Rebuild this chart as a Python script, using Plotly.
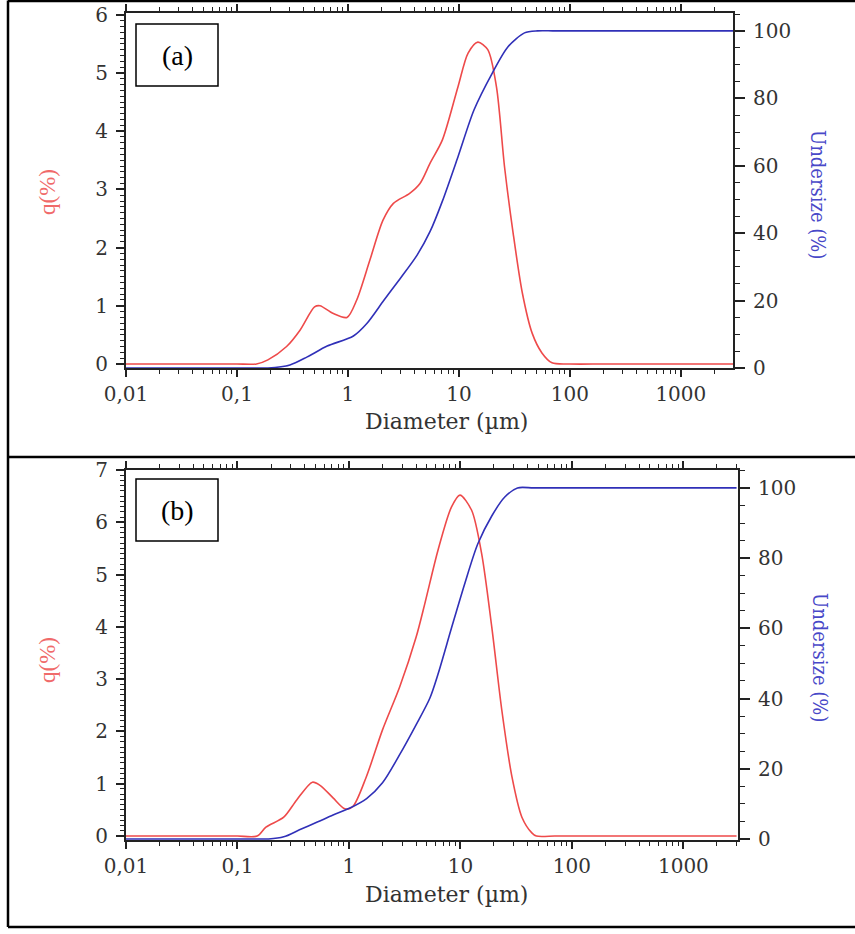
import plotly.graph_objects as go

W, H = 855, 934

# ---------------- data ----------------
# Panel (a)
d_qa = [0.01, 0.03, 0.06, 0.1, 0.15, 0.19, 0.28, 0.37, 0.50, 0.56, 0.73, 0.98, 1.2, 1.58, 2.07, 2.57, 3.6, 4.46, 5.5,
        7.1, 9.8, 12.1, 14.8, 18.2, 21.8, 25.8, 30.8, 37.3, 45.7, 56, 69, 100, 200, 500, 1000, 3000]
q_a = [0, 0, 0, 0, 0, 0.07, 0.3, 0.58, 0.98, 1.0, 0.87, 0.8, 1.1, 1.79, 2.47, 2.76, 2.93, 3.1, 3.45,
       3.85, 4.76, 5.34, 5.53, 5.40, 4.76, 3.38, 2.25, 1.22, 0.53, 0.19, 0.02, 0, 0, 0, 0, 0]
d_ua = [0.01, 0.03, 0.06, 0.1, 0.15, 0.19, 0.30, 0.43, 0.65, 1.12, 1.48, 2.1, 2.95, 4.2, 5.5, 7.1, 9.8, 13.7, 20,
        27.7, 39, 51, 70, 100, 200, 500, 1000, 3000]
u_a = [0, 0, 0, 0, 0, 0, 0.9, 3.3, 6.5, 9.5, 13.2, 20, 26.5, 33.5, 40.5, 49.5, 62.6, 76.6, 87.5,
       95.3, 99.4, 100, 100, 100, 100, 100, 100, 100]

# Panel (b)
d_qb = [0.01, 0.03, 0.06, 0.1, 0.15, 0.18, 0.26, 0.34, 0.47, 0.55, 0.72, 0.92, 1.08, 1.43, 2.0, 2.85, 4.0, 4.8, 6.3,
        8.3, 9.9, 12.6, 15.5, 19.1, 23.5, 29, 35.6, 43.7, 48, 70, 100, 200, 500, 1000, 3000]
q_b = [0, 0, 0, 0, 0, 0.17, 0.36, 0.69, 1.03, 0.97, 0.73, 0.52, 0.56, 1.13, 2.03, 2.85, 3.8, 4.45, 5.47,
       6.29, 6.52, 6.23, 5.4, 4.0, 2.41, 1.13, 0.36, 0.06, 0, 0, 0, 0, 0, 0, 0]
d_ub = [0.01, 0.03, 0.06, 0.1, 0.15, 0.19, 0.26, 0.36, 0.52, 0.72, 1.02, 1.44, 2.0, 2.85, 4.0, 5.3, 6.3, 8.3, 11,
        14.3, 19.1, 25, 32.5, 45, 70, 100, 200, 500, 1000, 3000]
u_b = [0, 0, 0, 0, 0, 0, 0.6, 2.6, 4.8, 6.8, 8.8, 11.5, 16, 24, 32.5, 40, 47, 60, 73,
       84, 92, 97.4, 100, 100, 100, 100, 100, 100, 100, 100]

x_tickvals = [0.01, 0.1, 1, 10, 100, 1000]
x_ticktext = ["0,01", "0,1", "1", "10", "100", "1000"]
panel_labels = ["(a)", "(b)"]
x_title = "Diameter (\u00b5m)"
yl_title = "q(%)"
yr_title = "Undersize (%)"

RED = "#ee4a4a"
BLUE = "#3030b8"
AX = "#222222"
SERIF = "Liberation Serif, Times New Roman, serif"
WIDE_SERIF = "DejaVu Serif, Liberation Serif, serif"


def px_x(v):
    return v / W


def px_y(v):
    return 1 - v / H


fig = go.Figure()

line_kw = dict(width=1.6, shape="spline", smoothing=0.8)
fig.add_trace(go.Scatter(x=d_qa, y=q_a, mode="lines", line=dict(color=RED, **line_kw),
                         xaxis="x", yaxis="y", showlegend=False))
fig.add_trace(go.Scatter(x=d_ua, y=u_a, mode="lines", line=dict(color=BLUE, **line_kw),
                         xaxis="x", yaxis="y2", showlegend=False))
fig.add_trace(go.Scatter(x=d_qb, y=q_b, mode="lines", line=dict(color=RED, **line_kw),
                         xaxis="x2", yaxis="y3", showlegend=False))
fig.add_trace(go.Scatter(x=d_ub, y=u_b, mode="lines", line=dict(color=BLUE, **line_kw),
                         xaxis="x2", yaxis="y4", showlegend=False))

tickfont = dict(family=WIDE_SERIF, size=20, color="#333333")


def xaxis(domain, rng, anchor):
    return dict(type="log", domain=domain, range=rng, anchor=anchor, automargin=False,
                tickmode="array", tickvals=x_tickvals, ticktext=x_ticktext,
                ticks="outside", ticklen=7, tickwidth=1.5, tickcolor=AX,
                minor=dict(ticks="outside", ticklen=4, tickwidth=1.2, tickcolor=AX, dtick="D1", showgrid=False),
                showline=True, linecolor=AX, linewidth=2, mirror="ticks",
                showgrid=False, zeroline=False, tickfont=tickfont)


def yleft(domain, rng, anchor):
    return dict(domain=domain, range=rng, anchor=anchor, dtick=1, tick0=0, automargin=False,
                ticks="outside", ticklen=8, tickwidth=1.5, tickcolor=AX, ticklabelstandoff=4,
                minor=dict(ticks="outside", ticklen=4, tickwidth=1.2, tickcolor=AX, dtick=0.1, showgrid=False),
                showline=True, linecolor=AX, linewidth=2,
                showgrid=False, zeroline=False, tickfont=tickfont)


def yright(overlay, rng, anchor):
    return dict(overlaying=overlay, side="right", range=rng, anchor=anchor, dtick=20, tick0=0, automargin=False,
                ticks="outside", ticklen=10, tickwidth=1.5, tickcolor=AX, ticklabelstandoff=4,
                minor=dict(ticks="outside", ticklen=5, tickwidth=1.2, tickcolor=AX, dtick=5, showgrid=False),
                showline=True, linecolor=AX, linewidth=2,
                showgrid=False, zeroline=False, tickfont=tickfont)


top_dom_y = [px_y(368), px_y(13)]
bot_dom_y = [px_y(840), px_y(470)]

fig.update_layout(
    template="none",
    width=W, height=H, margin=dict(l=0, r=0, t=0, b=0, pad=0, autoexpand=False),
    paper_bgcolor="white", plot_bgcolor="rgba(0,0,0,0)",
    xaxis=xaxis([px_x(126), px_x(733)], [-2, 3.47], "y"),
    yaxis=yleft(top_dom_y, [-0.069, 6.03], "x"),
    yaxis2=yright("y", [0, 105.3], "x"),
    xaxis2=xaxis([px_x(126), px_x(738)], [-2, 3.49], "y3"),
    yaxis3=yleft(bot_dom_y, [-0.076, 7.0], "x2"),
    yaxis4=yright("y3", [-0.3, 105.1], "x2"),
)

annotations = []
shapes = []

panels = [
    dict(lab=panel_labels[0], box=(136, 24, 218, 86), xt=(446, 421), ql=(47, 192), ur=(818, 194)),
    dict(lab=panel_labels[1], box=(136, 479, 218, 541), xt=(446, 894), ql=(47, 660), ur=(820, 657)),
]
for p in panels:
    x0, y0, x1, y1 = p["box"]
    shapes.append(dict(type="rect", xref="paper", yref="paper", x0=px_x(x0), x1=px_x(x1), y0=px_y(y1), y1=px_y(y0),
                       line=dict(color="black", width=1.5), fillcolor="white", layer="above"))
    annotations.append(dict(text=p["lab"], xref="paper", yref="paper", x=px_x((x0 + x1) / 2), y=px_y((y0 + y1) / 2),
                            xanchor="center", yanchor="middle",
                            showarrow=False, font=dict(family=SERIF, size=28, color="black")))
    annotations.append(dict(text=x_title, xref="paper", yref="paper", x=px_x(p["xt"][0]), y=px_y(p["xt"][1]),
                            xanchor="center", yanchor="middle",
                            showarrow=False, font=dict(family=WIDE_SERIF, size=22, color="#333333")))
    annotations.append(dict(text=yl_title, xref="paper", yref="paper", x=px_x(p["ql"][0]), y=px_y(p["ql"][1]),
                            xanchor="center", yanchor="middle",
                            showarrow=False, textangle=-90, font=dict(family=SERIF, size=23, color="#f06a6a")))
    annotations.append(dict(text=yr_title, xref="paper", yref="paper", x=px_x(p["ur"][0]), y=px_y(p["ur"][1]),
                            xanchor="center", yanchor="middle",
                            showarrow=False, textangle=90,
                            font=dict(family="DejaVu Serif Condensed, Liberation Serif, serif", size=20,
                                      color="#4848c8")))

# outer frame and separator
frame = dict(color="black", width=2.5)
shapes += [
    dict(type="line", xref="paper", yref="paper", x0=px_x(8), x1=px_x(8), y0=px_y(927), y1=px_y(0.5), line=frame),
    dict(type="line", xref="paper", yref="paper", x0=px_x(8), x1=1, y0=px_y(1), y1=px_y(1), line=frame),
    dict(type="line", xref="paper", yref="paper", x0=px_x(8), x1=1, y0=px_y(457), y1=px_y(457), line=frame),
    dict(type="line", xref="paper", yref="paper", x0=px_x(8), x1=1, y0=px_y(927), y1=px_y(927), line=frame),
]

fig.update_layout(annotations=annotations, shapes=shapes)
fig.write_html("out.html")
